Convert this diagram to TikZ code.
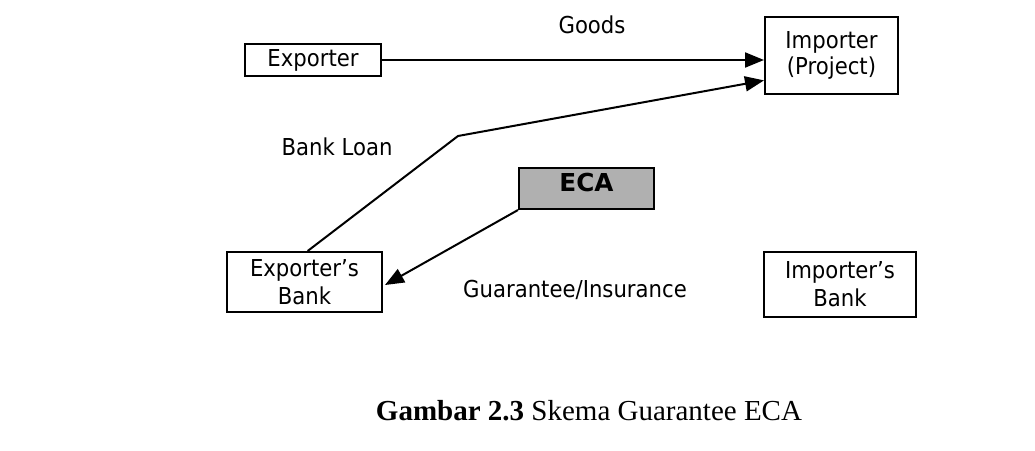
\documentclass[tikz,border=0pt]{standalone}
\usepackage{fontspec}
\setmainfont{DejaVu Sans}[FakeStretch=0.91]
\newfontfamily\widefont{DejaVu Sans}
\newfontfamily\capfont{Liberation Serif}
\usetikzlibrary{arrows.meta,calc}
\definecolor{ecagray}{HTML}{B0B0B0}
\begin{document}
\begin{tikzpicture}[x=1pt,y=-1pt,
  box/.style={draw=black, line width=2pt, fill=white, inner sep=0pt, align=center,
    font=\fontsize{23.3}{27}\selectfont},
  lbl/.style={font=\fontsize{23.3}{27}\selectfont, anchor=base, inner sep=0pt},
  arr/.style={line width=2pt, line join=miter, -{Triangle[length=19pt,width=15pt]}}]
\useasboundingbox (0,0) rectangle (1035,450);

\node[box, minimum width=136pt, minimum height=32pt] (exp) at (313,60) {Exporter};
\node[box, minimum width=133pt, minimum height=77pt, font=\fontsize{23.3}{26}\selectfont] (imp) at (831.5,55.5) {Importer\\(Project)};
\node[box, fill=ecagray, minimum width=135pt, minimum height=41pt,
  font=\widefont\fontsize{24.7}{28}\selectfont\bfseries, text height=18pt, text depth=13pt] (eca) at (586.5,188.5) {ECA};
\node[box, minimum width=155pt, minimum height=60pt, font=\fontsize{23.3}{28}\selectfont] (eb) at (304.5,282) {Exporter’s\\Bank};
\node[box, minimum width=152pt, minimum height=65pt, font=\fontsize{23.3}{28}\selectfont] (ib) at (840,284.5) {Importer’s\\Bank};

\node[lbl] (goods) at (592,33) {Goods};
\node[lbl] (loan) at (337,155) {Bank Loan};
\node[lbl] (guar) at (575,297) {Guarantee/Insurance};

\coordinate (bend) at (458,136);
\coordinate (ebtop) at ($(eb.north west)!0.52!(eb.north east)$);
\coordinate (loanend) at ($(imp.west)!0.63!(imp.south west)$);

\draw[arr] (exp.east) -- (exp.east -| imp.west);
\draw[arr] (ebtop) -- (bend) -- (loanend);
\draw[arr] (eca.south west) -- ($(eb.east)+(2,3)$);

\node[anchor=base, inner sep=0pt, font=\capfont\fontsize{29}{34}\selectfont] (cap) at (589,420)
  {\textbf{Gambar 2.3} Skema Guarantee ECA};
\end{tikzpicture}
\end{document}
